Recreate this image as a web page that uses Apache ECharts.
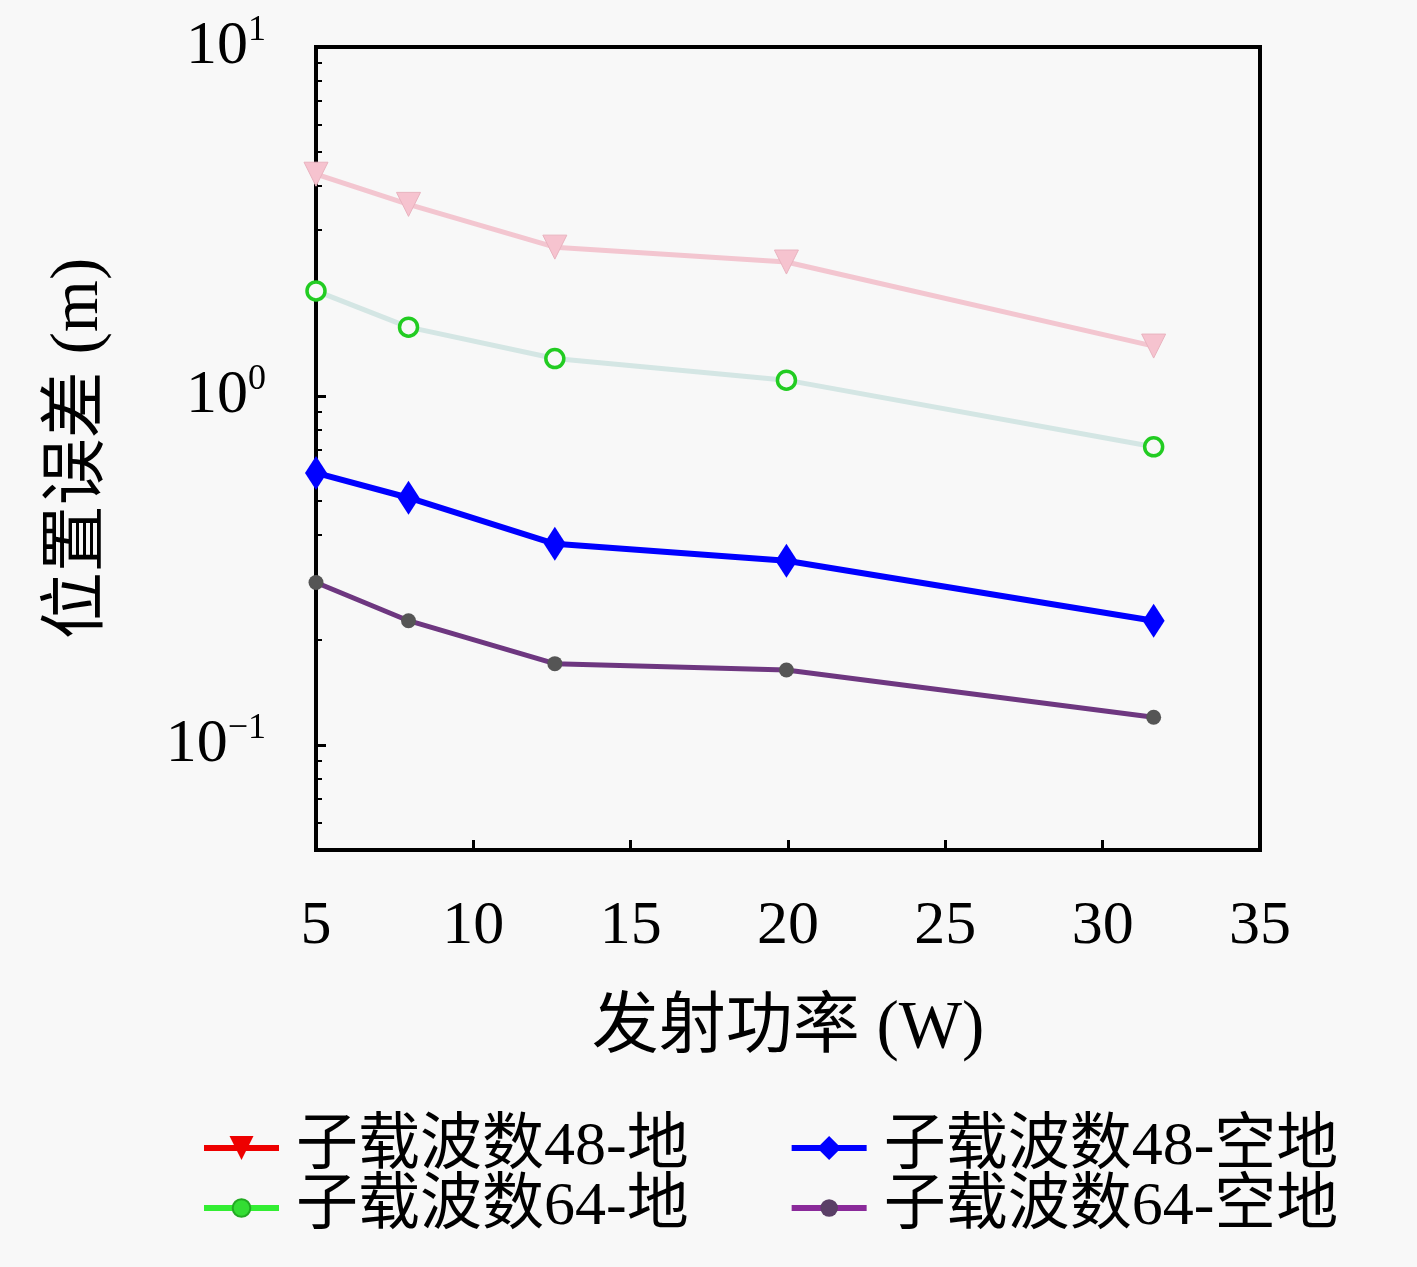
<!DOCTYPE html>
<html>
<head>
<meta charset="utf-8">
<script src="https://cdn.jsdelivr.net/npm/echarts@6/dist/echarts.min.js"></script>
<style>
  html, body { margin: 0; padding: 0; background: #f8f8f8; }
  #chart { width: 1417px; height: 1267px; }
</style>
</head>
<body>
<div id="chart"></div>
<script>
// Datos
const powerW = [5, 7.94, 12.59, 19.95, 31.62];
const err48Ground = [4.32, 3.54, 2.67, 2.42, 1.39];
const err64Ground = [2.0, 1.575, 1.28, 1.11, 0.715];
const err48AirGround = [0.602, 0.511, 0.377, 0.337, 0.227];
const err64AirGround = [0.292, 0.227, 0.171, 0.164, 0.120];
const seriesNames = ['子载波数48-地', '子载波数64-地', '子载波数48-空地', '子载波数64-空地'];
const xTicks = [5, 10, 15, 20, 25, 30, 35];

const serif = "'Liberation Serif', 'Noto Sans CJK SC', serif";

const toPairs = (ys) => ys.map((y, i) => [powerW[i], y]);

const legendText = { fontSize: 62, fontFamily: serif, color: '#000', padding: [0, 0, 0, 12] };

const chart = echarts.init(document.getElementById('chart'));
const option = {
  animation: false,
  backgroundColor: '#f8f8f8',
  textStyle: { fontFamily: serif, color: '#000' },
  grid: {
    left: 316,
    top: 47,
    right: 157,
    bottom: 417,
    show: true,
    borderColor: '#000',
    borderWidth: 4,
    backgroundColor: 'transparent'
  },
  xAxis: {
    type: 'value',
    min: xTicks[0],
    max: xTicks[xTicks.length - 1],
    interval: 5,
    name: '发射功率 (W)',
    nameLocation: 'middle',
    nameGap: 146,
    nameTextStyle: { fontSize: 67, fontFamily: serif, color: '#000' },
    axisLine: { show: true, lineStyle: { color: '#000', width: 4 } },
    axisTick: { show: true, inside: true, length: 10, lineStyle: { color: '#000', width: 3 } },
    axisLabel: { fontSize: 62, fontFamily: serif, color: '#000', margin: 46 },
    splitLine: { show: false }
  },
  yAxis: {
    type: 'log',
    logBase: 10,
    min: 0.05,
    max: 10,
    name: '位置误差 (m)',
    nameLocation: 'middle',
    nameGap: 203,
    nameTextStyle: { fontSize: 67, fontFamily: serif, color: '#000' },
    axisLine: { show: true, lineStyle: { color: '#000', width: 4 } },
    axisTick: { show: true, inside: true, length: 10, lineStyle: { color: '#000', width: 3 } },
    minorTick: { show: true, splitNumber: 9, length: 6, lineStyle: { color: '#000', width: 2 } },
    axisLabel: {
      margin: 50,
      formatter: function (v) {
        const l = Math.log10(v);
        const e = Math.round(l);
        if (Math.abs(l - e) > 1e-6) return '';
        return '{b|10}{s|' + (e < 0 ? '−' + (-e) : e) + '}';
      },
      rich: {
        b: { fontSize: 62, fontFamily: serif, color: '#000' },
        s: { fontSize: 36, fontFamily: serif, color: '#000', padding: [0, 0, 32, 0] }
      }
    },
    splitLine: { show: false }
  },
  legend: [
    {
      left: 196,
      top: 1112,
      itemWidth: 75,
      itemHeight: 30,
      itemGap: 100,
      textStyle: legendText,
      data: [
        { name: seriesNames[0], itemStyle: { color: '#ee0000', borderWidth: 0 }, lineStyle: { color: '#ee0000', width: 6 } },
        { name: seriesNames[2], itemStyle: { color: '#0000ff', borderWidth: 0 }, lineStyle: { color: '#0000ff', width: 6 } }
      ]
    },
    {
      left: 196,
      top: 1172,
      itemWidth: 75,
      itemHeight: 22,
      itemGap: 100,
      textStyle: legendText,
      data: [
        { name: seriesNames[1], itemStyle: { color: '#33dd33', borderColor: '#22aa22', borderWidth: 2 }, lineStyle: { color: '#33ee33', width: 6 } },
        { name: seriesNames[3], itemStyle: { color: '#5a3f66', borderWidth: 0 }, lineStyle: { color: '#8a2a9a', width: 6 } }
      ]
    }
  ],
  series: [
    {
      name: seriesNames[0],
      type: 'line',
      data: toPairs(err48Ground),
      symbol: 'triangle',
      symbolRotate: 180,
      symbolSize: 24,
      itemStyle: { color: '#f6c3cf', borderColor: '#e9b3bf', borderWidth: 1 },
      lineStyle: { color: '#f3c6d0', width: 5 },
      z: 2
    },
    {
      name: seriesNames[1],
      type: 'line',
      data: toPairs(err64Ground),
      symbol: 'circle',
      symbolSize: 18,
      itemStyle: { color: '#f8f8f8', borderColor: '#22cc22', borderWidth: 3.5 },
      lineStyle: { color: '#d4e6e4', width: 5 },
      z: 2
    },
    {
      name: seriesNames[2],
      type: 'line',
      data: toPairs(err48AirGround),
      symbol: 'diamond',
      symbolSize: [22, 34],
      itemStyle: { color: '#0000ff' },
      lineStyle: { color: '#0000ff', width: 6 },
      z: 3
    },
    {
      name: seriesNames[3],
      type: 'line',
      data: toPairs(err64AirGround),
      symbol: 'circle',
      symbolSize: 15,
      itemStyle: { color: '#555555' },
      lineStyle: { color: '#6e3780', width: 5 },
      z: 3
    }
  ]
};
chart.setOption(option);
</script>
</body>
</html>
